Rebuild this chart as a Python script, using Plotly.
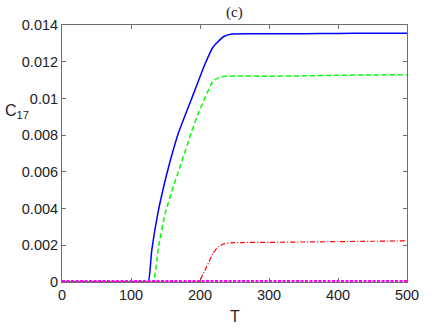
import plotly.graph_objects as go

# Values
blue_T = [0, 120, 125, 130, 138.7, 148, 154, 168.6, 188, 207, 219, 234, 246, 300, 350, 400, 450, 500]
blue_C = [0, 0, 0, 0.0017, 0.0037, 0.0053, 0.0062, 0.0081, 0.0100, 0.01185, 0.0128, 0.01336,
          0.01351, 0.01352, 0.01353, 0.01354, 0.01355, 0.01355]

green_T = [0, 127, 132.3, 139.6, 149.3, 161.3, 168.6, 188, 197.6, 207, 219, 231, 253, 300, 350, 400, 450, 500]
green_C = [0, 0, 0, 0.00185, 0.0037, 0.0052, 0.0060, 0.0082, 0.0092, 0.0100, 0.01095, 0.01118,
           0.01122, 0.01121, 0.01123, 0.01126, 0.01128, 0.01129]

red_T = [0, 193, 198.6, 204, 209.7, 219, 226, 233.8, 245, 262, 300, 350, 400, 450, 500]
red_C = [0, 0, 0, 0.0004, 0.00083, 0.00156, 0.0019, 0.00207, 0.00213, 0.00215, 0.00216, 0.00218,
         0.0022, 0.00222, 0.00224]

magenta_T = [0, 100, 200, 300, 400, 500]
magenta_C = [0, 0, 0, 0, 0, 0]

x_ticks = [0, 100, 200, 300, 400, 500]
y_ticks = [0, 0.002, 0.004, 0.006, 0.008, 0.01, 0.012, 0.014]
y_ticktext = ["0", "0.002", "0.004", "0.006", "0.008", "0.01", "0.012", "0.014"]

fig = go.Figure()
fig.add_trace(go.Scatter(x=blue_T, y=blue_C, mode="lines", line_shape="spline",
                         line=dict(color="#0000ff", width=1.5, smoothing=0.5)))
fig.add_trace(go.Scatter(x=green_T, y=green_C, mode="lines", line_shape="spline",
                         line=dict(color="#00ff00", width=1.5, dash="5px,3px", smoothing=0.5)))
fig.add_trace(go.Scatter(x=red_T, y=red_C, mode="lines", line_shape="spline",
                         line=dict(color="#ff0000", width=1.2, dash="5px,2px,1px,2px", smoothing=0.5)))
fig.add_trace(go.Scatter(x=magenta_T, y=magenta_C, mode="lines",
                         line=dict(color="#ff00ff", width=4, dash="3px,1.5px")))

axis_style = dict(
    showline=True, linecolor="#6e6e6e", linewidth=1, mirror="ticks",
    ticks="inside", ticklen=4, tickcolor="#6e6e6e",
    showgrid=False, zeroline=False, layer="below traces",
    tickfont=dict(family="Liberation Sans, Arial, sans-serif", size=14.5, color="#222"),
)

fig.update_xaxes(range=[0, 500], tickvals=x_ticks, **axis_style)
fig.update_yaxes(range=[0, 0.014], tickvals=y_ticks, ticktext=y_ticktext, **axis_style)

fig.update_layout(
    width=436, height=327,
    margin=dict(l=62, r=29, t=25, b=45),
    plot_bgcolor="white", paper_bgcolor="white",
    showlegend=False,
    annotations=[
        dict(text="(c)", x=0.5, y=1.047, xref="paper", yref="paper",
             xanchor="center", yanchor="middle", showarrow=False,
             font=dict(family="Liberation Serif, Times New Roman, serif", size=15, color="#222")),
        dict(text="C<sub>17</sub>", x=-0.171, y=0.665, xref="paper", yref="paper",
             xanchor="left", yanchor="middle", showarrow=False,
             font=dict(family="Liberation Sans, Arial, sans-serif", size=16, color="#222")),
        dict(text="T", x=0.5, y=-0.136, xref="paper", yref="paper",
             xanchor="center", yanchor="middle", showarrow=False,
             font=dict(family="Liberation Sans, Arial, sans-serif", size=16, color="#222")),
    ],
)

# drop the page's default body margin so the figure sits at the window corner
fig.write_html("out.html", config={"displayModeBar": False},
               post_script="document.body.style.margin = '0';")
